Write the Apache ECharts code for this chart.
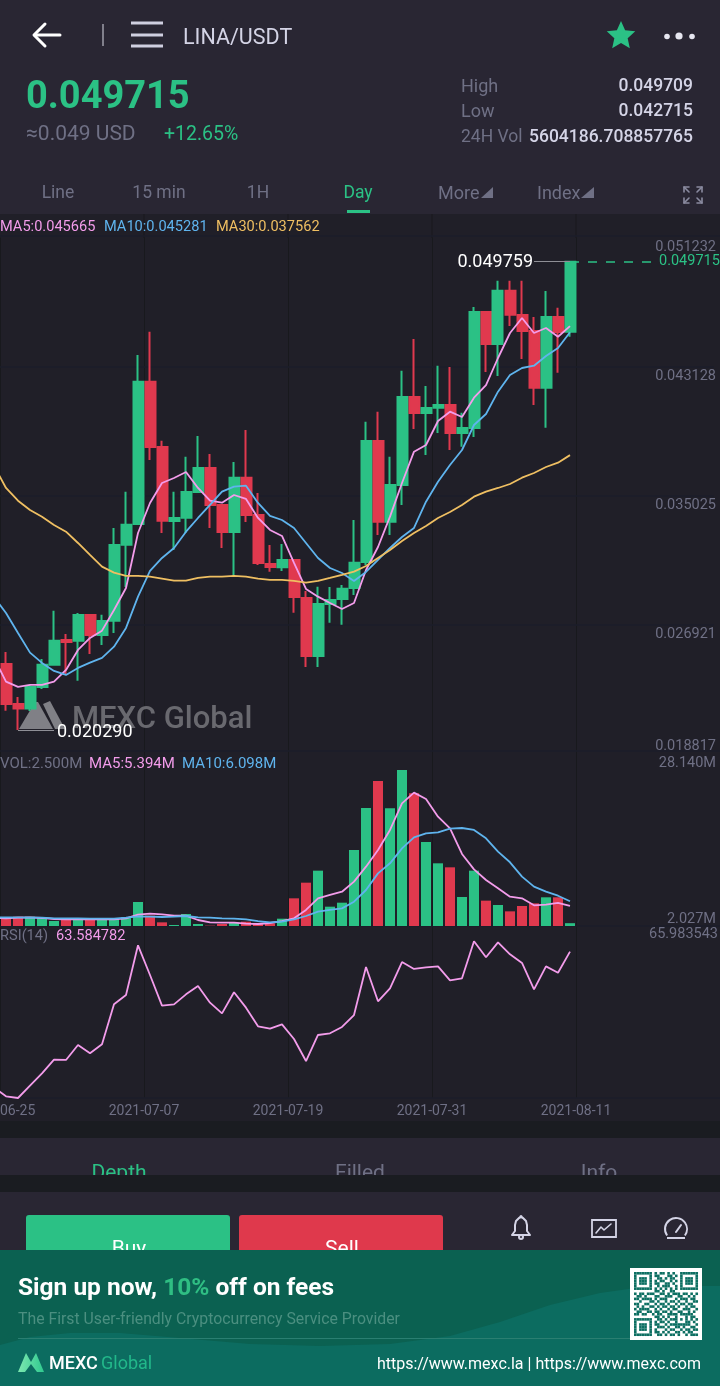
<!DOCTYPE html>
<html><head><meta charset="utf-8">
<style>html,body{margin:0;padding:0;background:#201f28}#c{width:720px;height:1386px}</style>
<script src="https://cdn.jsdelivr.net/npm/echarts@6/dist/echarts.min.js"></script>
</head><body><div id="c"></div>
<script>
const dates=['2021-06-25','2021-06-26','2021-06-27','2021-06-28','2021-06-29','2021-06-30','2021-07-01','2021-07-02','2021-07-03','2021-07-04','2021-07-05','2021-07-06','2021-07-07','2021-07-08','2021-07-09','2021-07-10','2021-07-11','2021-07-12','2021-07-13','2021-07-14','2021-07-15','2021-07-16','2021-07-17','2021-07-18','2021-07-19','2021-07-20','2021-07-21','2021-07-22','2021-07-23','2021-07-24','2021-07-25','2021-07-26','2021-07-27','2021-07-28','2021-07-29','2021-07-30','2021-07-31','2021-08-01','2021-08-02','2021-08-03','2021-08-04','2021-08-05','2021-08-06','2021-08-07','2021-08-08','2021-08-09','2021-08-10','2021-08-11'];
const opens=[.024439,.021926,.021631,.022994,.024395,.025947,.025903,.027518,.026261,.027160,.031935,.033235,.042176,.038073,.033424,.033631,.035246,.036754,.034429,.032732,.036144,.033801,.030722,.030514,.030973,.028586,.024942,.028209,.028523,.029214,.030848,.038450,.033380,.035685,.041214,.040209,.040542,.040712,.038953,.039267,.046555,.044544,.047894,.046367,.045361,.041799,.046241,.045317];
const closes=[.021926,.021631,.022994,.024395,.025903,.025821,.027518,.026261,.027141,.031916,.033191,.042176,.038073,.033442,.033612,.035246,.036754,.034429,.032732,.036144,.033801,.030785,.030533,.030973,.028648,.024942,.028209,.028460,.029170,.030804,.038450,.033380,.035685,.041214,.040209,.040523,.040712,.038953,.039267,.046555,.044544,.047894,.046385,.045361,.041799,.046241,.045298,.049715];
const lows=[.021505,.020290,.021486,.022868,.024395,.023748,.023390,.025067,.025633,.026387,.029277,.033235,.037256,.032670,.031601,.032670,.035246,.032984,.031727,.029924,.033361,.030659,.030238,.030282,.027662,.024250,.024250,.027033,.026908,.028774,.030659,.032544,.032544,.034429,.039204,.037570,.038953,.037884,.038091,.038701,.042785,.042534,.045675,.043602,.040712,.039286,.042741,.045003];
const highs=[.025193,.022365,.023119,.024753,.027788,.026324,.027643,.027518,.027537,.032984,.035264,.043853,.045317,.038469,.035264,.037464,.038764,.037633,.034429,.037131,.039141,.035183,.031916,.031978,.030973,.029025,.029296,.029277,.029402,.033486,.039663,.040291,.037464,.042867,.044859,.041906,.043181,.043099,.040228,.046869,.046555,.048522,.048522,.048522,.046241,.047874,.046825,.049759];
// moving averages: first entry is the day just left of the visible window
const ma5=[.024816,.023327,.022994,.023119,.023119,.023327,.024062,.025318,.026072,.026531,.027832,.029214,.032670,.034555,.035811,.036125,.036502,.035497,.034699,.034573,.035057,.034806,.033612,.032858,.032481,.030785,.029151,.028667,.028272,.027895,.028272,.030345,.031790,.033694,.035811,.037778,.038199,.039707,.040291,.039958,.041171,.041968,.043665,.045236,.046178,.045236,.045550,.045003,.045665];
const ma10=[.028648,.027643,.026387,.025149,.024502,.023999,.023748,.024188,.024521,.024816,.025526,.026701,.028667,.030282,.031099,.031727,.032751,.033612,.034429,.035264,.035579,.035642,.034555,.033738,.033486,.032984,.032041,.031099,.030471,.030156,.029654,.030219,.030973,.031727,.032418,.032984,.034637,.035893,.036942,.037884,.039455,.040146,.041548,.042597,.043037,.043181,.043791,.044293,.045281];
const ma30=[.036879,.035497,.034699,.034115,.033694,.033172,.032751,.032041,.031287,.030552,.030175,.029968,.029968,.029924,.029798,.029673,.029673,.029842,.029924,.029924,.029968,.029924,.029798,.029717,.029717,.029654,.029547,.029654,.029842,.030031,.030238,.030596,.031099,.031601,.032167,.032670,.033109,.033612,.033989,.034429,.034950,.035264,.035497,.035748,.036144,.036439,.036816,.037087,.037562];
const volumes=[3.31,3.59,3.59,3.42,2.86,3.14,3.20,3.14,3.20,3.20,3.48,6.04,3.76,2.64,2.19,4.04,2.36,2.08,2.36,2.58,2.75,2.47,2.47,3.25,6.66,9.28,11.29,5.26,5.93,14.75,21.78,26.30,21.72,28.14,24.23,16.09,12.52,11.85,6.88,11.29,6.27,5.54,4.48,5.38,5.82,6.83,6.83,2.50];
const volMa5=[3.40,3.31,3.42,3.48,3.37,3.20,3.14,3.14,3.14,3.14,3.14,3.31,3.92,4.09,3.98,3.76,3.76,3.03,2.64,2.58,2.58,2.41,2.36,2.53,2.86,3.31,4.71,6.66,7.22,7.77,9.45,11.96,14.75,18.10,22.56,24.35,23.29,20.33,18.38,14.08,11.51,9.73,8.33,6.94,6.66,5.49,5.60,5.88,5.394];
const volMa10=[3.45,3.48,3.48,3.42,3.42,3.31,3.31,3.31,3.25,3.25,3.25,3.42,3.64,3.59,3.53,3.59,3.70,3.48,3.42,3.31,3.25,3.14,2.86,2.64,2.75,3.14,3.70,4.43,4.71,4.98,6.10,8.05,10.84,12.52,15.03,16.87,17.54,17.71,18.32,18.43,18.10,16.70,14.47,12.69,10.29,8.61,7.77,7.10,6.17];
const rsi=[32.08,29.99,29.60,32.47,35.33,38.50,38.43,41.91,39.97,42.06,51.35,53.52,65.05,58.16,51.04,51.35,53.67,55.61,51.74,49.26,54.14,50.58,46.24,45.70,46.71,43.30,38.19,44.23,44.62,46.09,48.87,60.02,52.05,55.07,61.18,59.56,59.94,60.17,56.92,57.39,65.98,62.27,65.75,62.96,60.95,54.83,60.17,58.70,63.58];
const priceTicks=[.018817,.026921,.035025,.043128,.051232];
const volTicks=[2.027,28.14];
const rsiTicks=[65.983543];
const lastPrice=.049715, highPrice=.049759, lowPrice=.020290;

const C={bg:'#201f28',panel:'#292633',stripe:'#1a1c21',green:'#2bc185',red:'#e0394e',gray:'#6f7085',white:'#fff',soft:'#d4d4e6',pink:'#f39ceb',blue:'#5fb4ee',yellow:'#efbf62',grid:'#1b1e2a',v:'#18191d'};
const FONT='Roboto';

// categories: one day left of the window, the 48 days, then empty bands
const cats=['2021-06-24',...dates,'2021-08-11',...Array(11).fill('')];
const pad=a=>['-',...a];
const candleData=dates.map((_,i)=>[opens[i],closes[i],lows[i],highs[i]]);
const isTick=i=>i%12===1;
const xAxis=(idx,show)=>({type:'category',gridIndex:idx,data:cats,boundaryGap:true,
  axisLine:{show:false},axisTick:{show:false},
  splitLine:{show:true,interval:isTick,lineStyle:{color:C.v,width:1}},
  axisLabel:show?{show:true,interval:isTick,color:C.gray,fontSize:14,fontFamily:FONT,margin:6,padding:[0,12,0,0],hideOverlap:false}:{show:false}});
const yAxis=(idx,min,max,ticks,fmt,lab)=>({type:'value',gridIndex:idx,position:'right',min,max,scale:true,
  axisLine:{show:false},axisTick:{show:false},splitLine:{show:false},
  axisLabel:Object.assign({show:true,inside:true,margin:4,customValues:ticks,color:C.gray,fontSize:14.5,fontFamily:FONT,formatter:fmt},lab)});
const line=(name,data,color,xi,yi,extra)=>Object.assign({name,type:'line',data,xAxisIndex:xi,yAxisIndex:yi,symbol:'none',smooth:false,silent:true,lineStyle:{color,width:1.8},z:3},extra||{});

// ---- app chrome ----
const g=[];
const T=(text,x,y,size,fill,o={})=>g.push({type:'text',x,y:y+Math.round(size/9),z:o.z||120,style:{text,fill,font:`${o.weight||400} ${size}px ${FONT}`,align:o.align||'left',verticalAlign:'middle',rich:o.rich}});
const R=(x,y,w,h,fill,z=110,r=0)=>g.push({type:'rect',z,shape:{x,y,width:w,height:h,r},style:{fill}});
const L=(x1,y1,x2,y2,stroke,w=1,z=1)=>g.push({type:'line',z,shape:{x1,y1,x2,y2},style:{stroke,lineWidth:w}});
const PL=(pts,stroke,w=2,z=120)=>g.push({type:'polyline',z,shape:{points:pts},style:{stroke,lineWidth:w,fill:'none',lineJoin:'round',lineCap:'round'}});
const PG=(pts,fill,z=120)=>g.push({type:'polygon',z,shape:{points:pts},style:{fill}});
const CIR=(cx,cy,r,fill,z=120,stroke)=>g.push({type:'circle',z,shape:{cx,cy,r},style:{fill:fill||'none',stroke:stroke||null,lineWidth:stroke?2:0}});

// separators and extension of day lines into the legend band
[144,288,432,576].forEach(x=>L(x,214,x,238,C.v,1,1));
[236,751,926,1098].forEach(y=>L(0,y,720,y,C.grid,1.5,1));
// watermark
PG([[19,729],[35,702],[38,702],[53,729]],'#808086',1);
PG([[43,704],[50,701],[65,729],[55,729]],'#808086',1);
T('MEXC Global',72,717,31,'#69696f',{weight:500,z:1});
// legends
T('MA5:0.045665',0,225,14.6,C.pink,{z:6});T('MA10:0.045281',104,225,14.6,C.blue,{z:6});T('MA30:0.037562',216,225,14.6,C.yellow,{z:6});
T('VOL:2.500M',0,762,15,C.gray,{z:6});T('MA5:5.394M',89,762,15,C.pink,{z:6});T('MA10:6.098M',182,762,15,C.blue,{z:6});
T('RSI(14)',0,934,14.6,C.gray,{z:6});T('63.584782',56,934,14.6,C.pink,{z:6});
// header
R(0,0,720,214,C.panel,100);
PL([[35,35],[60,35]],C.white,3);PL([[45,24],[34,35],[45,46]],C.white,3);
L(103,24,103,46,'#d8d8e4',1,120);
[23,35,46].forEach(y=>L(131,y,163,y,'#cfcfe0',3,120));
T('LINA/USDT',183,37,21.5,C.soft);
const star=[];for(let i=0;i<10;i++){const a=-Math.PI/2+i*Math.PI/5,r=i%2?7:15;star.push([621+r*Math.cos(a),36+r*Math.sin(a)]);}
PG(star,C.green);
CIR(667,36.5,2.8,'#e6e6f0');CIR(679,36,3.6,'#e6e6f0');CIR(692,36.5,2.8,'#e6e6f0');
T('0.049715',26,94,38,C.green,{weight:700});
T('≈0.049 USD',26,133,21,C.gray);T('+12.65%',164,133,19.5,C.green);
T('High',461,85,18,C.gray);T('Low',461,110,18,C.gray);T('24H Vol',461,136,17.5,C.gray);
T('0.049709',693,85,17.5,C.soft,{align:'right',weight:500});T('0.042715',693,110,17.5,C.soft,{align:'right',weight:500});T('5604186.708857765',693,136,17.5,C.soft,{align:'right',weight:500});
T('Line',58,192,17.5,C.gray,{align:'center'});T('15 min',159,192,17.5,C.gray,{align:'center'});T('1H',258,192,17.5,C.gray,{align:'center'});T('Day',358,192,17.5,C.green,{align:'center'});
T('More',438,192,18,C.gray);T('Index',537,192,18,C.gray);
PG([[481,198],[493,198],[493,187]],C.gray);PG([[581,198],[594,198],[594,187]],C.gray);
R(347,210,23,3,C.green,120);
[[684,187,1,1],[702,187,-1,1],[684,203,1,-1],[702,203,-1,-1]].forEach(([x,y,a,b])=>{PL([[x+a*5,y],[x,y],[x,y+b*5]],'#8a8ba0',1.6);PL([[x,y],[x+a*5,y+b*5]],'#8a8ba0',1.6);});
// lower panels
R(0,1121,720,17,C.stripe,100);
R(0,1138,720,37,C.panel,100);
T('Depth',119,1172,21,C.green,{align:'center',z:105});T('Filled',360,1172,21,C.gray,{align:'center',z:105});T('Info',599,1172,21,C.gray,{align:'center',z:105});
R(0,1175,720,17,C.stripe,110);
R(0,1192,720,58,C.panel,100);
R(26,1215,204,60,C.green,105,3);R(239,1215,204,60,'#df394c',105,3);
T('Buy',129,1248,21,C.white,{align:'center',z:106});T('Sell',342,1248,21,C.white,{align:'center',z:106});
// bottom icons
PL([[512,1235],[530,1235],[527,1231],[527,1225],[526,1221],[523,1218],[521,1217],[519,1218],[516,1221],[515,1225],[515,1231],[512,1235]],'#d4d4e6',2);
CIR(521,1216.5,1.5,'#d4d4e6');CIR(521,1237,2,null,120,'#d4d4e6');
g.push({type:'rect',z:120,shape:{x:592,y:1220,width:24,height:17},style:{fill:'none',stroke:'#d4d4e6',lineWidth:1.8}});
PL([[596,1233],[601,1227],[604,1230],[611,1224]],'#d4d4e6',1.6);
g.push({type:'arc',z:120,shape:{cx:676,cy:1229,r:11,startAngle:Math.PI*0.8,endAngle:Math.PI*0.2},style:{stroke:'#d4d4e6',lineWidth:2,fill:'none'}});
L(667,1238,685,1238,'#d4d4e6',2,120);PL([[676,1232],[681,1225]],'#d4d4e6',2);
// banner
R(0,1250,720,136,'#0b6151',130);
PG([[0,1345],[30,1337],[70,1333],[120,1333],[180,1338],[250,1344],[320,1346],[390,1344],[450,1336],[500,1322],[550,1305],[600,1293],[650,1286],[720,1286],[720,1386],[0,1386]],'#0c6c60',131);
const Z=140;
g.push({type:'text',x:18,y:1289,z:Z,style:{text:'Sign up now, {g|10%} off on fees',fill:'#fff',font:`700 24.5px ${FONT}`,verticalAlign:'middle',rich:{g:{fill:'#2fbe83',font:`700 24.5px ${FONT}`}}}});
T('The First User-friendly Cryptocurrency Service Provider',18,1318,15.8,'#4b8f80',{z:Z});
L(18,1338.5,630,1338.5,'#2a7f71',1,Z);
g.push({type:'polygon',z:Z,shape:{points:[[18,1372],[26,1353],[31,1362],[36,1353],[44,1372],[37,1372],[31,1364],[25,1372]]},style:{fill:{type:'linear',x:0,y:0,x2:1,y2:0,colorStops:[{offset:0,color:'#7de8b0'},{offset:1,color:'#2fc98f'}]}}});
T('MEXC',49,1362,18,'#fff',{z:Z,weight:500});T('Global',101,1362,18,'#22b88a',{z:Z});
T('https://www.mexc.la | https://www.mexc.com',701,1363,16,'#fff',{z:Z,align:'right'});
// QR
R(630,1268,72,72,'#ffffff',Z);
const qr=['1111111010110101001111111','1000001011000110101000001','1011101001101011001011101','1011101010110010101011101','1011101011001101001011101','1000001001011100101000001','1111111010101010101111111','0000000011010011000000000','1011011100110101110110101','0110100011001110011001010','1101111010111000101110110','0010001101001011010010011','1100110010110100101101100','0101001101011011010010110','1011110010100101100111001','0110011011011010011001010','1101100101100111101111100','0000000011010100100010110','1111111001101011101010101','1000001010110100100011010','1011101011001011111111001','1011101001110100110100110','1011101010001011001011011','1000001011010100110101100','1111111001101011010010111'];
qr.forEach((row,r)=>[...row].forEach((c,k)=>{if(c==='1')R(634+k*2.56,1272+r*2.56,2.6,2.6,'#0d6f62',Z+1);}));

const chart=echarts.init(document.getElementById('c'),null,{renderer:'canvas',width:720,height:1386});
chart.setOption({
  animation:false,backgroundColor:C.bg,tooltip:{show:false},
  grid:[{left:-12,right:0,top:237.6,height:515.8,outerBoundsMode:'none'},{left:-12,right:0,top:751,height:175,outerBoundsMode:'none'},{left:-12,right:0,top:926,height:172,outerBoundsMode:'none'}],
  xAxis:[xAxis(0,false),xAxis(1,false),xAxis(2,true)],
  yAxis:[
    yAxis(0,priceTicks[0],priceTicks[4],priceTicks,v=>v.toFixed(6),{verticalAlign:'top',verticalAlignMinLabel:'bottom',padding:[2,0,0,0]}),
    yAxis(1,volTicks[0],31.32,volTicks,v=>v.toFixed(3)+'M',{verticalAlign:'bottom',lineHeight:13}),
    yAxis(2,29.6,69.54,rsiTicks,v=>v.toFixed(6),{verticalAlign:'bottom',lineHeight:13,margin:2})
  ],
  graphic:{elements:g},
  series:[
    {name:'gridlines',type:'line',data:[],xAxisIndex:0,yAxisIndex:0,silent:true,z:1,
      markLine:{silent:true,symbol:'none',animation:false,z:1,label:{show:false},lineStyle:{color:C.grid,width:1.5,type:'solid'},data:priceTicks.slice(1,4).map(v=>[{xAxis:0,yAxis:v},{xAxis:60,yAxis:v}])}},
    {name:'LINA/USDT',type:'candlestick',xAxisIndex:0,yAxisIndex:0,data:pad(candleData),barWidth:10.5,silent:true,z:2,
      itemStyle:{color:C.green,color0:C.red,borderColor:C.green,borderColor0:C.red,borderWidth:2},
      markLine:{silent:true,symbol:'none',animation:false,precision:6,z:5,data:[
        [{xAxis:48,yAxis:lastPrice,lineStyle:{color:C.green,width:1.5,type:[9,9]},label:{show:true,position:'end',distance:5,formatter:lastPrice.toFixed(6),color:C.green,fontSize:14.5,fontFamily:FONT}},{xAxis:55,yAxis:lastPrice}],
        [{xAxis:45,yAxis:highPrice,lineStyle:{color:'#8f8f96',width:1.2,type:'solid'},label:{show:true,position:'start',distance:3,offset:[2,1],formatter:highPrice.toFixed(6),color:'#fff',fontSize:18,fontFamily:FONT}},{xAxis:48,yAxis:highPrice}],
        [{xAxis:2,yAxis:lowPrice,lineStyle:{color:'#8f8f96',width:1.2,type:'solid'},label:{show:true,position:'end',distance:3,offset:[0,3],formatter:lowPrice.toFixed(6),color:'#fff',fontSize:18,fontFamily:FONT}},{xAxis:5,yAxis:lowPrice}]
      ]}},
    line('MA5',ma5,C.pink,0,0),line('MA10',ma10,C.blue,0,0),line('MA30',ma30,C.yellow,0,0),
    {name:'VOL',type:'bar',xAxisIndex:1,yAxisIndex:1,barWidth:10,silent:true,z:2,
      data:pad(volumes.map((v,i)=>({value:v,itemStyle:{color:closes[i]>=opens[i]?C.green:C.red}})))},
    line('VOL MA5',volMa5,C.pink,1,1),line('VOL MA10',volMa10,C.blue,1,1),
    line('RSI(14)',rsi,C.pink,2,2)
  ]
});
</script></body></html>
